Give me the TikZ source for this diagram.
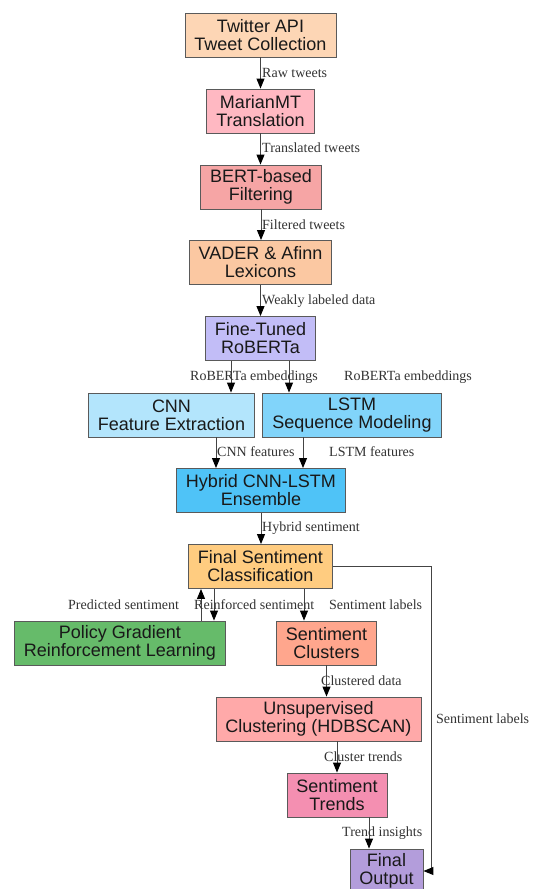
\documentclass[tikz,border=0pt]{standalone}
\usepackage{fontspec}
\setmainfont{Liberation Serif}
\setsansfont{Liberation Sans}
\usepackage{tikz}
\usetikzlibrary{arrows.meta, positioning}
\usepackage{xcolor}
\definecolor{boxline}{HTML}{5A5A5A}
\definecolor{edgeline}{HTML}{444444}
\definecolor{labeltext}{HTML}{333333}
\definecolor{cTwitter}{HTML}{FDD6B5}
\definecolor{cMarian}{HTML}{FFB8C2}
\definecolor{cBert}{HTML}{F6A5A5}
\definecolor{cVader}{HTML}{FBC8A2}
\definecolor{cRoberta}{HTML}{C2BDF7}
\definecolor{cCnn}{HTML}{B3E5FC}
\definecolor{cLstm}{HTML}{81D4FA}
\definecolor{cHybrid}{HTML}{4FC3F7}
\definecolor{cFinal}{HTML}{FFCC80}
\definecolor{cPolicy}{HTML}{66BB6A}
\definecolor{cClusters}{HTML}{FFA68D}
\definecolor{cUnsup}{HTML}{FFA9A9}
\definecolor{cTrends}{HTML}{F48FB1}
\definecolor{cOutput}{HTML}{B39DDB}
\tikzset{%
	stage/.style={
		rectangle,
		draw=boxline,
		line width=0.9pt,
		align=center,
		font=\sffamily\fontsize{18}{18}\selectfont,
		text=black!90,
		minimum height=44pt,
		inner xsep=9.5pt,
		inner ysep=0pt
	},
	flow/.style={
		draw=edgeline,
		line width=1pt,
		-{Triangle[length=10pt,width=8pt,black]}
	},
	lbl/.style={
		font=\fontsize{14}{14}\selectfont,
		text=labeltext,
		inner sep=0pt,
		anchor=west
	},
}
\begin{document}
\begin{tikzpicture}[x=1pt, y=-1pt]
	\fill[white] (0,0) rectangle (535,889);
	\useasboundingbox (0,0) rectangle (535,889);
	
	% Pipeline stages
	\node[stage, fill=cTwitter] (twitter) at (260.5,35) {Twitter API\\Tweet Collection};
	\node[stage, fill=cMarian] (marian) at (260.5,111) {MarianMT\\Translation};
	\node[stage, fill=cBert] (bert) at (261,187) {BERT-based\\Filtering};
	\node[stage, fill=cVader] (vader) at (260.5,262.5) {VADER \& Afinn\\Lexicons};
	\node[stage, fill=cRoberta] (roberta) at (260.5,338.5) {Fine-Tuned\\RoBERTa};
	\node[stage, fill=cCnn] (cnn) at (171.5,415) {CNN\\Feature Extraction};
	\node[stage, fill=cLstm] (lstm) at (352,415) {LSTM\\Sequence Modeling};
	\node[stage, fill=cHybrid] (hybrid) at (261,490.5) {Hybrid CNN-LSTM\\Ensemble};
	\node[stage, fill=cFinal] (final) at (260.5,566.5) {Final Sentiment\\Classification};
	\node[stage, fill=cPolicy] (policy) at (120,643) {Policy Gradient\\Reinforcement Learning};
	\node[stage, fill=cClusters] (clusters) at (326.5,643) {Sentiment\\Clusters};
	\node[stage, fill=cUnsup] (unsup) at (318.5,719) {Unsupervised\\Clustering (HDBSCAN)};
	\node[stage, fill=cTrends] (trends) at (337,795) {Sentiment\\Trends};
	\node[stage, fill=cOutput] (output) at (386.5,871) {Final\\Output};
	
	% Connections
	\draw[flow] (twitter.south) -- (twitter.south |- marian.north);
	\draw[flow] (marian.south) -- (marian.south |- bert.north);
	\draw[flow] (bert.south) -- (bert.south |- vader.north);
	\draw[flow] (vader.south) -- (vader.south |- roberta.north);
	\draw[flow] ([xshift=-29.5pt]roberta.south) -- ([xshift=-29.5pt]roberta.south |- cnn.north);
	\draw[flow] ([xshift=28.5pt]roberta.south) -- ([xshift=28.5pt]roberta.south |- lstm.north);
	\draw[flow] ([xshift=44.5pt]cnn.south) -- ([xshift=44.5pt]cnn.south |- hybrid.north);
	\draw[flow] ([xshift=-49pt]lstm.south) -- ([xshift=-49pt]lstm.south |- hybrid.north);
	\draw[flow] (hybrid.south) -- (hybrid.south |- final.north);
	\draw[flow] ([xshift=-46.5pt]final.south) -- ([xshift=-46.5pt]final.south |- policy.north);
	\draw[flow] ([xshift=81pt]policy.north) -- ([xshift=81pt]policy.north |- final.south);
	\draw[flow] ([xshift=43.5pt]final.south) -- ([xshift=43.5pt]final.south |- clusters.north);
	\draw[flow] (final.east) -- ++(99,0) |- (output.east);
	\draw[flow] (clusters.south) -- (clusters.south |- unsup.north);
	\draw[flow] (trends.north |- unsup.south) -- (trends.north);
	\draw[flow] ([xshift=32pt]trends.south) -- ([xshift=32pt]trends.south |- output.north);
	
	% Edge labels
	\node[lbl] (lraw) at (262,73) {Raw tweets};
	\node[lbl] (ltrans) at (262,148) {Translated tweets};
	\node[lbl] (lfilt) at (262,225) {Filtered tweets};
	\node[lbl] (lweak) at (262,301) {Weakly labeled data};
	\node[lbl] (lembA) at (190,377) {RoBERTa embeddings};
	\node[lbl] (lembB) at (344,377) {RoBERTa embeddings};
	\node[lbl] (lcnn) at (217,452) {CNN features};
	\node[lbl] (llstm) at (329,452) {LSTM features};
	\node[lbl] (lhyb) at (262,528) {Hybrid sentiment};
	\node[lbl] (lpred) at (68,605) {Predicted sentiment};
	\node[lbl] (lreinf) at (194,605) {Reinforced sentiment};
	\node[lbl] (lsentA) at (329,605) {Sentiment labels};
	\node[lbl] (lclus) at (321,681) {Clustered data};
	\node[lbl] (lsentB) at (436,719) {Sentiment labels};
	\node[lbl] (ltrend) at (324,757) {Cluster trends};
	\node[lbl] (linsig) at (342,833) {Trend insights};
\end{tikzpicture}
\end{document}
